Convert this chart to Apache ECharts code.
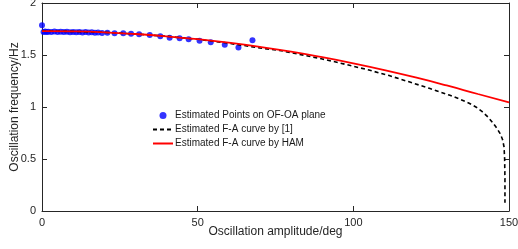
<!DOCTYPE html>
<html>
<head>
<meta charset="utf-8">
<script src="https://cdn.jsdelivr.net/npm/echarts@6/dist/echarts.min.js"></script>
<style>html,body{margin:0;padding:0;background:#fff}#c{width:518px;height:249px}</style>
</head>
<body>
<div id="c"></div>
<script>
// Estimated points on OF-OA plane
const pointsX = [0, 0.5, 1, 1.5, 2, 3, 4, 5, 6, 7, 8, 9, 10, 11, 12, 13, 14, 15, 16, 17, 18, 19.3, 21, 23.3, 26.1, 28.6, 31.2, 34.6, 38.0, 41.0, 44.2, 47.1, 50.6, 54.2, 58.7, 63.1, 67.6];
const pointsY = [1.785, 1.722, 1.725, 1.720, 1.724, 1.722, 1.726, 1.721, 1.723, 1.720, 1.724, 1.719, 1.722, 1.718, 1.721, 1.717, 1.720, 1.716, 1.718, 1.715, 1.716, 1.712, 1.714, 1.710, 1.709, 1.705, 1.699, 1.692, 1.681, 1.666, 1.661, 1.651, 1.638, 1.622, 1.598, 1.572, 1.641];
// Estimated F-A curve by [1]
const refX = [0, 10, 20, 30, 40, 50, 60, 70, 76.3, 80, 85, 90, 95, 100, 105, 111.5, 117.9, 124.4, 130.8, 134, 137.2, 139.5, 141.4, 143.2, 144.7, 146, 147.1, 147.9, 148.4, 148.6, 148.7, 148.7];
const refY = [1.730, 1.727, 1.718, 1.702, 1.680, 1.651, 1.613, 1.568, 1.544, 1.522, 1.493, 1.462, 1.428, 1.392, 1.355, 1.302, 1.242, 1.180, 1.115, 1.078, 1.036, 0.998, 0.955, 0.905, 0.852, 0.800, 0.747, 0.690, 0.618, 0.500, 0.300, 0.080];
// Estimated F-A curve by HAM
const hamX = [0, 10, 20, 30, 40, 50, 60, 70, 80, 90, 100, 110, 120, 130, 140, 150];
const hamY = [1.730, 1.727, 1.718, 1.702, 1.680, 1.652, 1.618, 1.578, 1.532, 1.479, 1.420, 1.355, 1.284, 1.207, 1.125, 1.045];

const xTicks = [0, 50, 100, 150];
const yTicks = [0, 0.5, 1, 1.5, 2];

const zip = (a, b) => a.map((v, i) => [v, b[i]]);
const font = 'Liberation Sans, Arial, sans-serif';
const axisCol = '#262626';

const chart = echarts.init(document.getElementById('c'), null, {renderer: 'canvas'});
const baseX = {
  type: 'value', min: 0, max: 150, interval: 50,
  axisLine: {show: true, onZero: false, lineStyle: {color: axisCol, width: 1}},
  axisTick: {show: true, inside: true, length: 5, lineStyle: {color: axisCol}},
  splitLine: {show: false}
};
const baseY = {
  type: 'value', min: 0, max: 2, interval: 0.5,
  axisLine: {show: true, onZero: false, lineStyle: {color: axisCol, width: 1}},
  axisTick: {show: true, inside: true, length: 5, lineStyle: {color: axisCol}},
  splitLine: {show: false}
};
chart.setOption({
  animation: false,
  grid: {left: 42, right: 9, top: 3, bottom: 38, containLabel: false, outerBoundsMode: 'none'},
  xAxis: [
    Object.assign({}, baseX, {
      position: 'bottom',
      name: 'Oscillation amplitude/deg', nameLocation: 'middle', nameGap: 15, nameMoveOverlap: false,
      nameTextStyle: {fontFamily: font, fontSize: 12, color: axisCol, verticalAlign: 'top'},
      axisLabel: {fontFamily: font, fontSize: 11, color: axisCol, margin: 6,
        formatter: v => xTicks.includes(v) ? String(v) : ''}
    }),
    Object.assign({}, baseX, {position: 'top', axisLabel: {show: false}})
  ],
  yAxis: [
    Object.assign({}, baseY, {
      position: 'left',
      name: 'Oscillation frequency/Hz', nameLocation: 'middle', nameGap: 21, nameRotate: 90, nameMoveOverlap: false,
      nameTextStyle: {fontFamily: font, fontSize: 12, color: axisCol},
      axisLabel: {fontFamily: font, fontSize: 11, color: axisCol, margin: 6,
        formatter: v => yTicks.includes(v) ? String(v) : ''}
    }),
    Object.assign({}, baseY, {position: 'right', axisLabel: {show: false}})
  ],
  legend: {
    orient: 'vertical', left: 147, top: 104,
    itemWidth: 20, itemHeight: 7, itemGap: 1,
    textStyle: {fontFamily: font, fontSize: 10, color: '#1a1a1a', lineHeight: 13, padding: [0, 0, 0, -3]},
    data: [
      {name: 'Estimated Points on OF-OA plane', icon: 'circle'},
      {name: 'Estimated F-A curve by [1]', itemStyle: {opacity: 0}},
      {name: 'Estimated F-A curve by HAM', itemStyle: {opacity: 0}}
    ]
  },
  series: [
    {name: 'Estimated Points on OF-OA plane', type: 'scatter', data: zip(pointsX, pointsY),
      symbol: 'circle', symbolSize: 6, itemStyle: {color: '#0000ff'}},
    {name: 'Estimated F-A curve by [1]', type: 'line', data: zip(refX, refY), showSymbol: false, symbol: 'none',
      smooth: false, itemStyle: {color: '#000'},
      lineStyle: {color: '#000', width: 1.6, type: [4, 3]}},
    {name: 'Estimated F-A curve by HAM', type: 'line', data: zip(hamX, hamY), showSymbol: false, symbol: 'none',
      smooth: true, itemStyle: {color: '#ff0000'},
      lineStyle: {color: '#ff0000', width: 1.8}}
  ]
});
</script>
</body>
</html>
